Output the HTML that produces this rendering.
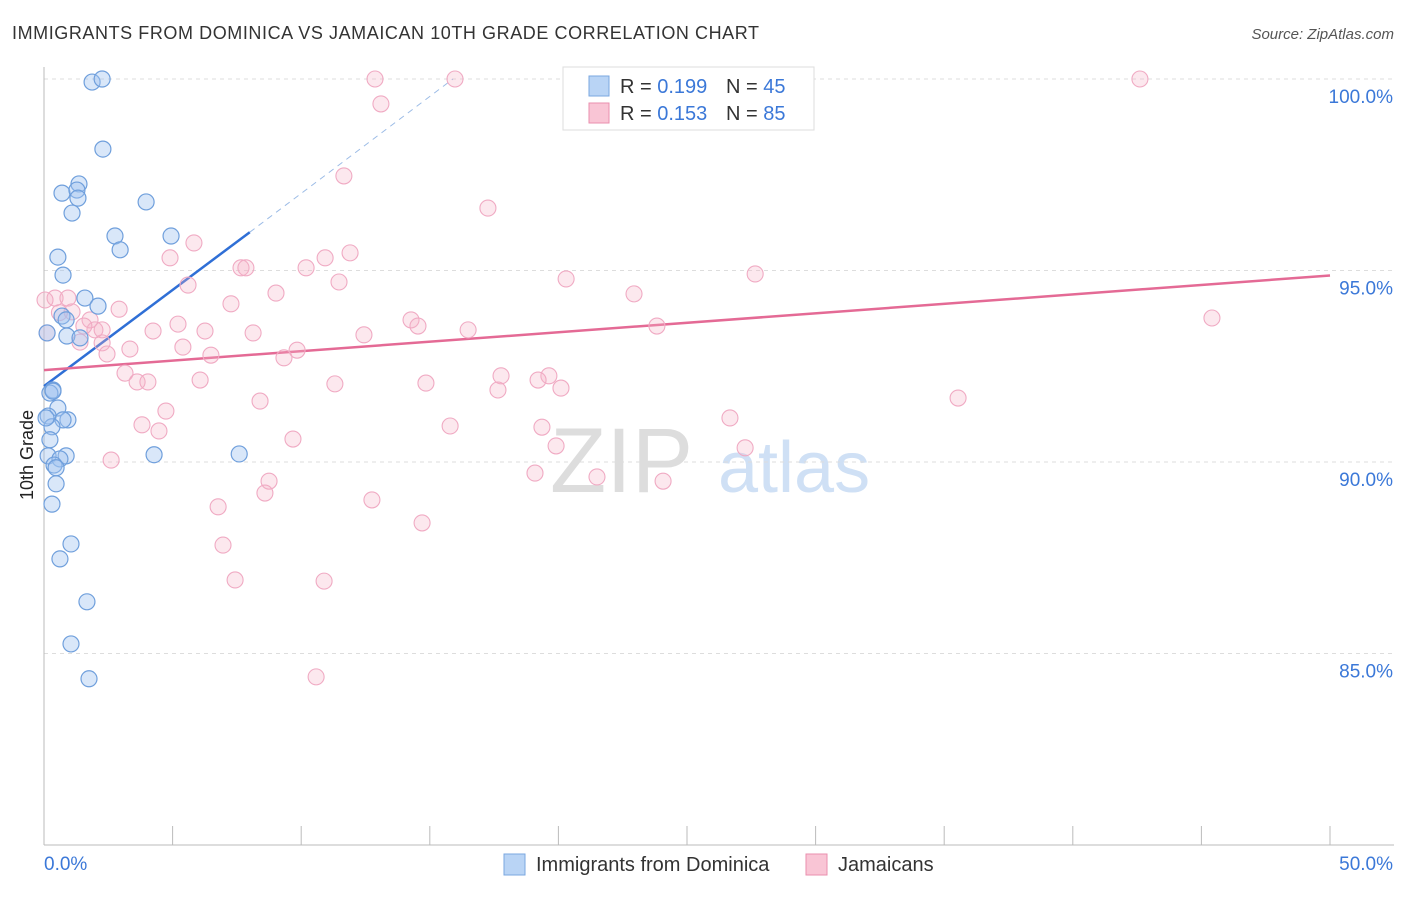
<!DOCTYPE html>
<html><head><meta charset="utf-8"><style>
body{margin:0;background:#fff;font-family:"Liberation Sans",sans-serif;}
svg text{font-family:"Liberation Sans",sans-serif;}
</style></head><body>
<svg id="chart" width="1406" height="892">
<text x="12" y="39" font-size="18" fill="#333" textLength="747">IMMIGRANTS FROM DOMINICA VS JAMAICAN 10TH GRADE CORRELATION CHART</text>
<text x="1394" y="39" font-size="15" fill="#555" font-style="italic" text-anchor="end">Source: ZipAtlas.com</text>
<text x="33" y="455" font-size="18" fill="#222" transform="rotate(-90 33 455)" text-anchor="middle">10th Grade</text>
<g><text x="550" y="492" font-size="92" fill="#ddd" font-family="Liberation Serif">ZIP</text><text x="718" y="492" font-size="72" fill="#cfe0f5">atlas</text></g>
<g id="grid"></g><g id="axes"></g><g id="trend"></g><g id="pts"></g>
<g>
<rect x="563" y="67" width="251" height="63" fill="#fff" stroke="#ddd"/>
<rect x="589" y="76" width="20" height="20" fill="#b9d4f5" stroke="#7aa7e0"/>
<rect x="589" y="103" width="20" height="20" fill="#f9c5d5" stroke="#ea8fae"/>
<text x="620" y="93" font-size="20" fill="#333">R = <tspan fill="#3b78d8">0.199</tspan></text>
<text x="726" y="93" font-size="20" fill="#333">N = <tspan fill="#3b78d8">45</tspan></text>
<text x="620" y="120" font-size="20" fill="#333">R = <tspan fill="#3b78d8">0.153</tspan></text>
<text x="726" y="120" font-size="20" fill="#333">N = <tspan fill="#3b78d8">85</tspan></text>
</g>
<g>
<rect x="504" y="854" width="21" height="21" fill="#b9d4f5" stroke="#7aa7e0"/>
<text x="536" y="871" font-size="20" fill="#333">Immigrants from Dominica</text>
<rect x="806" y="854" width="21" height="21" fill="#f9c5d5" stroke="#ea8fae"/>
<text x="838" y="871" font-size="20" fill="#333">Jamaicans</text>
</g>
</svg>
<script>
const blueX=[1.87,2.26,2.29,0.70,1.36,1.28,1.32,1.09,3.97,2.76,4.94,2.96,0.54,0.74,1.59,2.10,0.70,0.86,0.89,1.40,0.12,0.35,0.23,0.54,0.16,0.93,0.74,0.31,0.23,0.16,0.86,0.62,0.39,0.47,0.31,1.05,0.62,1.67,1.05,1.75,4.28,7.59,0.35,0.47,0.08];
const blueY=[99.92,100,98.17,97.02,97.26,97.10,96.89,96.50,96.79,95.90,95.90,95.54,95.35,94.88,94.28,94.07,93.81,93.71,93.29,93.24,93.37,91.88,91.80,91.41,91.20,91.10,91.10,90.92,90.58,90.16,90.16,90.08,89.92,89.43,88.90,87.86,87.47,86.35,85.25,84.34,90.19,90.21,91.85,89.85,91.15];
const pinkX=[12.87,15.98,26.56,42.61,13.10,11.66,17.26,5.83,4.90,10.93,11.90,10.19,7.66,7.85,20.30,27.65,5.60,11.47,9.02,22.94,0.43,0.93,7.27,2.92,1.09,45.41,14.27,14.54,1.79,5.21,1.98,4.24,6.26,8.13,16.49,23.83,12.44,1.40,2.26,5.40,9.84,3.34,2.45,6.49,9.33,3.15,17.77,19.63,3.62,4.04,6.07,11.31,14.85,19.21,20.10,17.65,4.74,8.40,3.81,4.47,15.79,19.36,9.68,19.91,26.67,35.54,27.26,2.61,19.09,21.50,24.07,8.75,8.59,12.75,6.77,14.70,6.96,7.43,10.89,10.58,0.12,0.04,1.55,2.26,0.6];
const pinkY=[100,100,100,100,99.35,97.47,96.63,95.72,95.33,95.33,95.46,95.07,95.07,95.07,94.78,94.91,94.62,94.70,94.41,94.39,94.28,94.28,94.13,93.99,93.92,93.76,93.71,93.55,93.71,93.60,93.45,93.42,93.42,93.37,93.45,93.55,93.32,93.13,93.11,93.00,92.92,92.95,92.82,92.79,92.72,92.32,92.25,92.25,92.09,92.09,92.14,92.04,92.06,92.14,91.93,91.88,91.33,91.59,90.97,90.81,90.94,90.91,90.60,90.42,91.15,91.67,90.37,90.05,89.71,89.61,89.50,89.50,89.19,89.01,88.83,88.41,87.83,86.92,86.89,84.39,93.37,94.23,93.55,93.45,93.9];
const yTicks=[100,95,90,85];
const yTickLabels=["100.0%","95.0%","90.0%","85.0%"];
const xTicks=[0,5,10,15,20,25,30,35,40,45,50];
const blueTrend=[[0,91.98],[8.0,96.0]];
const blueDash=[[8.0,96.0],[15.9,100]];
const pinkTrend=[[0,92.4],[50,94.87]];
const NS="http://www.w3.org/2000/svg";
const sx=v=>44+v*25.72, sy=v=>79+(100-v)*38.3;
function mk(t,a,p){const e=document.createElementNS(NS,t);for(const k in a)e.setAttribute(k,a[k]);p.appendChild(e);return e;}
const grid=document.getElementById('grid'),axes=document.getElementById('axes'),tr=document.getElementById('trend'),pts=document.getElementById('pts');
yTicks.forEach((v,i)=>{const l=mk('line',{x1:44,x2:1394,y1:sy(v),y2:sy(v),stroke:'#ddd','stroke-dasharray':'4 4'},grid);


const t=mk('text',{x:1393,y:sy(v)+24,'font-size':19,fill:'#3b78d8','text-anchor':'end'},axes);t.textContent=yTickLabels[i];

});
const ax=mk('line',{x1:44,x2:44,y1:67,y2:845,stroke:'#bbb'},axes);


const bx=mk('line',{x1:44,x2:1394,y1:845,y2:845,stroke:'#bbb'},axes);


xTicks.forEach(v=>{const l=mk('line',{x1:sx(v),x2:sx(v),y1:826,y2:845,stroke:'#bbb'},axes);

});
const x0=mk('text',{x:44,y:870,'font-size':19,fill:'#3b78d8'},axes);x0.textContent='0.0%';


const x1=mk('text',{x:1393,y:870,'font-size':19,fill:'#3b78d8','text-anchor':'end'},axes);x1.textContent='50.0%';


pinkX.forEach((x,i)=>{const c=mk('circle',{cx:sx(x),cy:sy(pinkY[i]),r:8,fill:'rgba(246,178,200,0.3)',stroke:'#f0aac3','stroke-width':1.1},pts);

});
blueX.forEach((x,i)=>{const c=mk('circle',{cx:sx(x),cy:sy(blueY[i]),r:8,fill:'rgba(160,196,240,0.4)',stroke:'#6f9fdc','stroke-width':1.2},pts);

});
const bl=mk('line',{x1:sx(blueTrend[0][0]),y1:sy(blueTrend[0][1]),x2:sx(blueTrend[1][0]),y2:sy(blueTrend[1][1]),stroke:'#2f6fd6','stroke-width':2.5},tr);


const bd=mk('line',{x1:sx(blueDash[0][0]),y1:sy(blueDash[0][1]),x2:sx(blueDash[1][0]),y2:sy(blueDash[1][1]),stroke:'#9bbbe6','stroke-width':1,'stroke-dasharray':'6 5'},tr);


const pl=mk('line',{x1:sx(pinkTrend[0][0]),y1:sy(pinkTrend[0][1]),x2:sx(pinkTrend[1][0]),y2:sy(pinkTrend[1][1]),stroke:'#e46a95','stroke-width':2.5},tr);


</script>
</body></html>
